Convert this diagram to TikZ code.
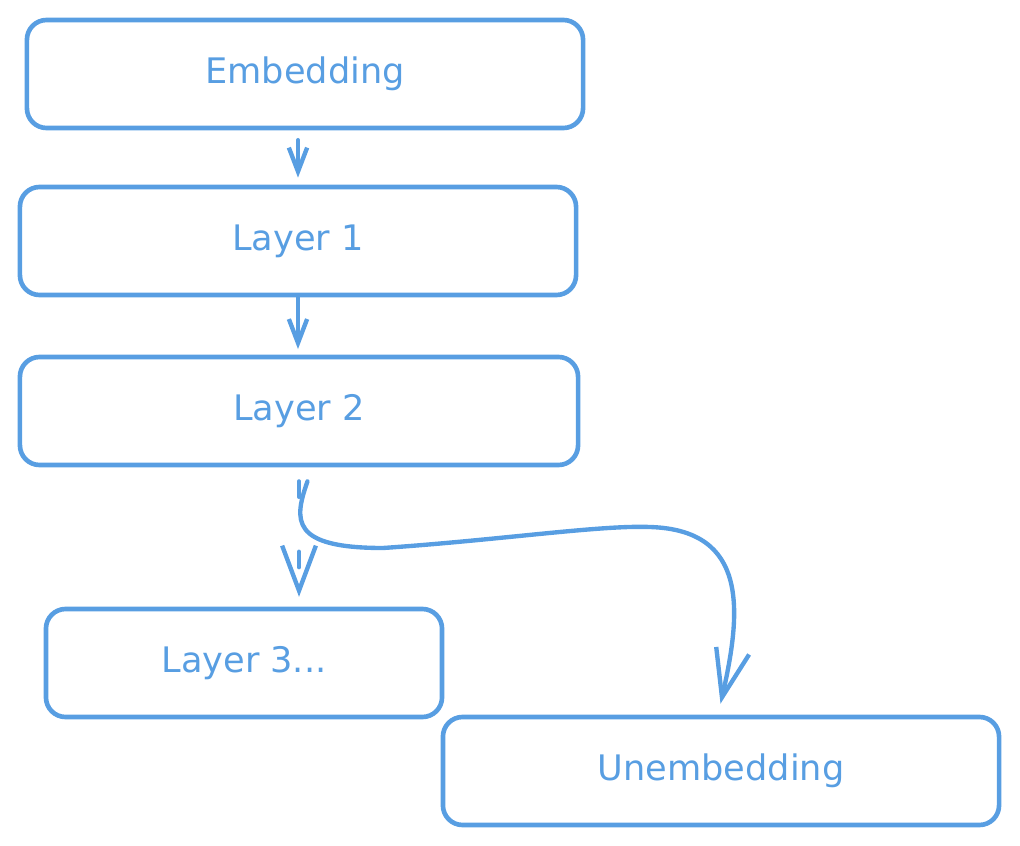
\documentclass[tikz,border=0pt]{standalone}
\usepackage{fontspec}
\setmainfont{DejaVu Sans}
\usepackage{tikz}
\usetikzlibrary{arrows.meta}
\usetikzlibrary{shapes}
\usetikzlibrary{positioning}
\definecolor{sketchblue}{RGB}{88,158,226}

\begin{document}
\begin{tikzpicture}[x=0.025cm,y=-0.025cm]
        \useasboundingbox (0,0) rectangle (1020,846);
        \begin{scope}[every node/.style={rectangle,rounded corners=14pt,draw=sketchblue,line width=3.3pt,
            text=sketchblue,font=\fontsize{25}{29}\selectfont,minimum height=2.7cm}]
            \node[minimum width=13.9cm] (1) at (305,74) {Embedding};
            \node[minimum width=13.9cm] (2) at (298,241) {Layer 1};
            \node[minimum width=13.95cm] (3) at (299,411) {Layer 2};
            \node[minimum width=9.9cm] (4) at (244,663) {Layer 3...};
            \node[minimum width=13.9cm] (5) at (721,771) {Unembedding};
        \end{scope}
        \begin{scope}[>={Straight Barb[length=32pt,width=24pt]},
            every edge/.style={draw=sketchblue,line width=3.1pt,line cap=round}]
                    \path[->,>={Straight Barb[length=17pt,width=13pt]},shorten <=7pt,shorten >=5pt] (1.south -| 2.north) edge node {} (2.north);
                    \path[->,>={Straight Barb[length=17pt,width=13pt]},shorten >=4pt] (2.south) edge node {} (3.north -| 2.south);
                    \path[->,shorten <=10pt,shorten >=7pt,dash pattern=on 11pt off 39pt] (3.south) edge node {} (3.south |- 4.north);
        \end{scope}
        \draw[->,>={Straight Barb[length=34pt,width=24pt]},draw=sketchblue,line width=3.1pt,line cap=round,
            shorten >=8pt]
            ([xshift=6pt,yshift=-10pt]3.south) .. controls (294,520) and (290,548) .. (383,548)
            .. controls (500,540) and (600,525) .. (650,527)
            .. controls (748,530) and (742,610) .. (5.north -| 718,0);
\end{tikzpicture}
\end{document}
